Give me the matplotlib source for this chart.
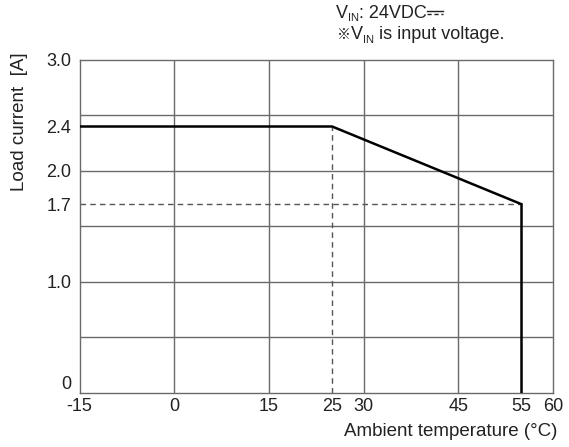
import matplotlib
matplotlib.use("Agg")
import matplotlib.pyplot as plt
from matplotlib.lines import Line2D
from matplotlib.transforms import offset_copy

plt.rcParams['font.family'] = ['Liberation Sans', 'DejaVu Sans', 'Noto Sans CJK JP']

# data
curve_x = [-15, 25, 55, 55]
curve_y = [2.4, 2.4, 1.7, 0.0]
dash_v_x = [25, 25]
dash_v_y = [0.0, 2.4]
dash_h_x = [-15, 55]
dash_h_y = [1.7, 1.7]
xticks = [-15, 0, 15, 25, 30, 45, 55, 60]
xticklabels = ['-15', '0', '15', '25', '30', '45', '55', '60']
yticks = [0, 1.0, 1.7, 2.0, 2.4, 3.0]
yticklabels = ['0', '1.0', '1.7', '2.0', '2.4', '3.0']
xgrid = [0, 15, 30, 45]
ygrid = [0.5, 1.0, 1.5, 2.0, 2.5]

FS = 13
LFS = 13.5
TC = '#222222'

fig = plt.figure(figsize=(5.69, 4.47), dpi=100)
ax = fig.add_axes([0.140, 0.121, 0.832, 0.745])
ax.set_xlim(-15, 60)
ax.set_ylim(0, 3.0)

gc = '#6a6a6a'
for gx in xgrid:
    ax.axvline(gx, color=gc, lw=1.0, zorder=1)
for gy in ygrid:
    ax.axhline(gy, color=gc, lw=1.0, zorder=1)

ax.plot(dash_v_x, dash_v_y, color='#555555', lw=1.0, ls=(0, (4, 3)), zorder=2)
ax.plot(dash_h_x, dash_h_y, color='#555555', lw=1.0, ls=(0, (4, 3)), zorder=2)
ax.plot(curve_x, curve_y, color='black', lw=1.8, zorder=3, solid_joinstyle='miter')

ax.set_xticks(xticks)
ax.set_xticklabels(xticklabels)
ax.set_yticks(yticks)
ax.set_yticklabels(yticklabels)
ax.tick_params(length=0, labelsize=FS, colors=TC)
ax.tick_params(axis='x', pad=4)
ax.tick_params(axis='y', pad=6)
ax.get_yticklabels()[0].set_verticalalignment('bottom')
for s in ax.spines.values():
    s.set_color(gc)
    s.set_linewidth(1.0)

fig.text(0.980, 0.035, 'Ambient temperature (°C)', ha='right', va='center',
         fontsize=LFS, color=TC)
fig.text(0.035, 0.728, 'Load current  [A]', rotation=90, ha='center', va='center',
         fontsize=LFS, color=TC)

renderer = fig.canvas.get_renderer()


def run(x, y, pieces):
    """Place text pieces one after another (offsets in points)."""
    dx = 0.0
    last = None
    for txt, size, dy, fam in pieces:
        kw = {}
        if fam:
            kw['family'] = fam
        tr = offset_copy(fig.transFigure, fig=fig, x=dx, y=dy, units='points')
        t = fig.text(x, y, txt, ha='left', va='baseline', fontsize=size,
                     color=TC, transform=tr, **kw)
        last = t.get_window_extent(renderer)
        dx += last.width * 72.0 / fig.dpi
    return last


bb = run(0.590, 0.960, [('V', FS, 0, None), ('IN', 8, -2.5, None),
                        (': 24VDC', FS, 0, None)])
# DC symbol (no installed font has U+2393): solid line over dashed line
W, H = fig.bbox.width, fig.bbox.height
x0 = (bb.x1 + 1) / W
x1 = (bb.x1 + 17) / W
base = 0.960 * H
cap = FS * fig.dpi / 72.0 * 0.716
y_solid = (base + 0.56 * cap) / H
y_dash = (base + 0.30 * cap) / H
fig.add_artist(Line2D([x0, x1], [y_solid, y_solid], transform=fig.transFigure,
                      color=TC, lw=1.0))
fig.add_artist(Line2D([x0, x1], [y_dash, y_dash], transform=fig.transFigure,
                      color=TC, lw=1.0, ls=(0, (3, 2))))

run(0.592, 0.912, [('※', 10, 0, ['Noto Sans CJK JP']), ('V', FS, 0, None),
                   ('IN', 8, -2.5, None), (' is input voltage.', FS, 0, None)])

fig.savefig('out.png', dpi=100)
